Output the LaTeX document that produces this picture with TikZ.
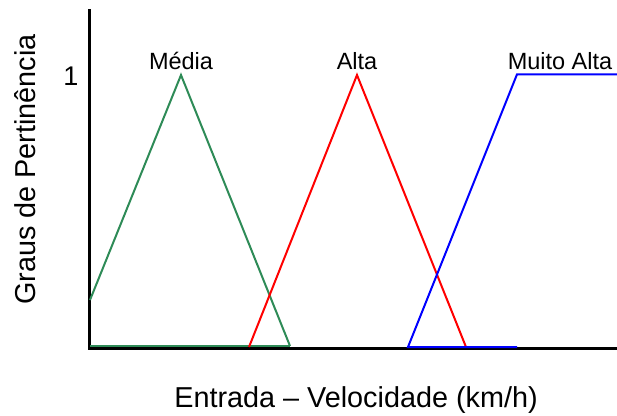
\documentclass[tikz,border=0pt]{standalone}
\usepackage{fontspec}
\setmainfont{Liberation Sans}
\definecolor{mediagreen}{RGB}{46,139,87}
\begin{document}
\begin{tikzpicture}[x=1pt, y=1pt,
  axis/.style={line width=3pt, black},
  curve/.style={line width=2pt, line join=miter},
  setlabel/.style={anchor=base, inner sep=0pt, font=\fontsize{23.5}{26}\selectfont},
  axislabel/.style={anchor=base, inner sep=0pt, font=\fontsize{28.8}{32}\selectfont}]

\useasboundingbox (0,0) rectangle (617,415);

\coordinate (O) at (89,67);
\coordinate (ytop) at (89,405.5);
\coordinate (xend) at (617,67);

\draw[axis] (ytop) -- (O) -- (xend);

\coordinate (m0) at (90,115);
\coordinate (m1) at (181,340);
\coordinate (m2) at (290,69);
\coordinate (m3) at (90,69);
\draw[curve, mediagreen] (m3) -- (m2);
\draw[curve, mediagreen] (m0) -- (m1) -- (m2);

\coordinate (a0) at (249,68);
\coordinate (a1) at (357,340);
\coordinate (a2) at (466,68);
\draw[curve, red] (a0) -- (a1) -- (a2);

\coordinate (b0) at (408,68);
\coordinate (b1) at (517,340.7);
\coordinate (b2) at (617,340.7);
\coordinate (b3) at (517,68);
\draw[curve, blue] (b3) -- (b0) -- (b1) -- (b2);

\node[setlabel] (media) at (181,345.5) {Média};
\node[setlabel] (alta) at (357,345.5) {Alta};
\node[setlabel] (muitoalta) at (560,345.5) {Muito Alta};

\node[inner sep=0pt, font=\fontsize{27}{30}\selectfont] (um) at (71,339) {1};

\node[axislabel] (xlabel) at (356,8) {Entrada -- Velocidade (km/h)};
\node[axislabel, rotate=90] (ylabel) at (35,245.5) {Graus de Pertinência};

\end{tikzpicture}
\end{document}
